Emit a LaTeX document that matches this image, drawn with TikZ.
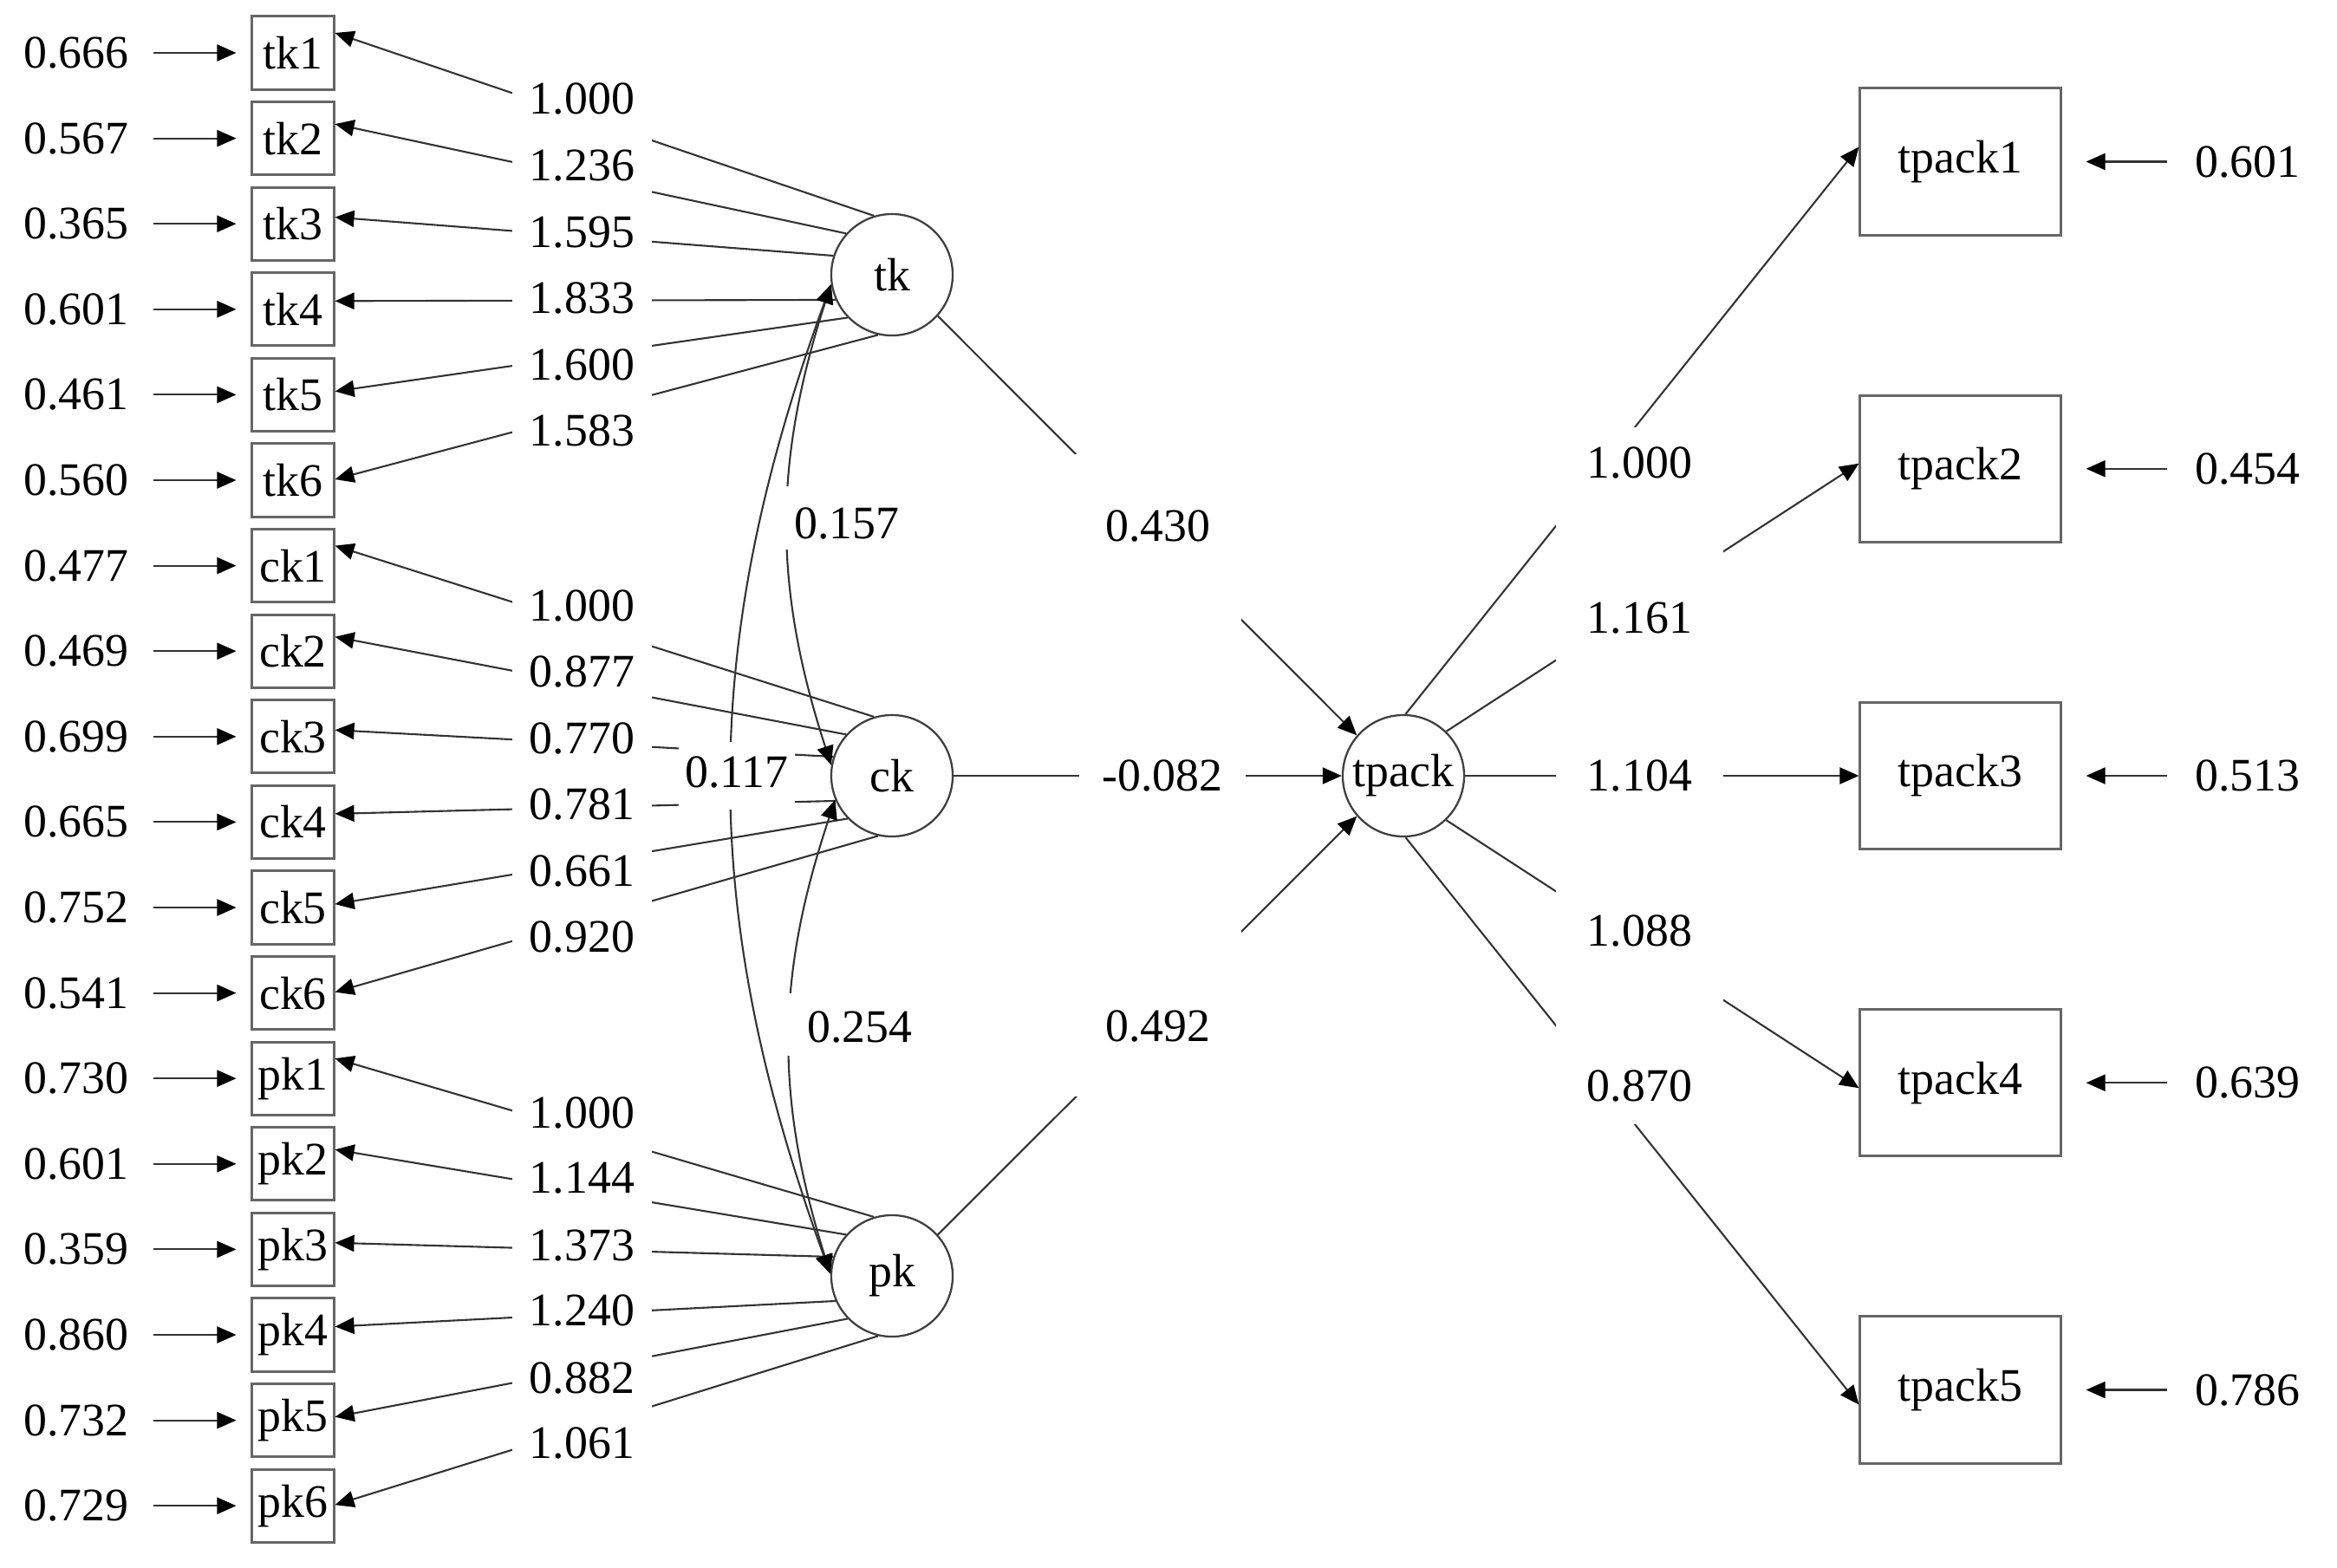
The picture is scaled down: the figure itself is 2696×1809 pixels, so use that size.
\documentclass[tikz,border=0pt]{standalone}
\usepackage{fontspec}
\setmainfont{Liberation Serif}
\usetikzlibrary{arrows.meta}
\begin{document}
\begin{tikzpicture}[x=0.01cm,y=0.01cm,
  every node/.style={font=\fontsize{15.3}{18}\selectfont, text=black},
  obs/.style={draw=black!60, line width=0.85pt, minimum width=0.94cm, minimum height=0.84cm, inner sep=0},
  bigobs/.style={draw=black!60, line width=0.85pt, minimum width=2.31cm, minimum height=1.69cm, inner sep=0},
  lat/.style={circle, draw=black!75, line width=0.65pt, minimum size=1.40cm, inner sep=0},
  num/.style={inner sep=0},
  mytip/.tip={Triangle[length=0.22cm,width=0.19cm,color=black]},
  arr/.style={draw=black!80, line width=0.6pt, -mytip},
  cov/.style={draw=black!80, line width=0.6pt, mytip-mytip},
  lab/.style={fill=white, inner sep=0, anchor=base},
  ll/.style={lab, minimum width=1.61cm, text height=0.705cm, text depth=0.335cm},
  rl/.style={lab, minimum width=1.93cm},
]
\path[use as bounding box, fill=white] (0,0) rectangle (2696,-1809);

% observed indicators with error values
\foreach \n/\y/\e in {tk1/61/0.666, tk2/159.6/0.567, tk3/258.2/0.365, tk4/356.8/0.601, tk5/455.4/0.461, tk6/554/0.560,
  ck1/652.6/0.477, ck2/751.2/0.469, ck3/849.8/0.699, ck4/948.4/0.665, ck5/1047/0.752, ck6/1145.6/0.541,
  pk1/1244.2/0.730, pk2/1342.8/0.601, pk3/1441.4/0.359, pk4/1540/0.860, pk5/1638.6/0.732, pk6/1737.2/0.729} {
  \node[obs] (\n) at (338,-\y) {\n};
  \node[num] (e\n) at (88,-\y) {\e};
  \draw[arr, shorten <=0.28cm, shorten >=0.17cm] (e\n) -- (\n);
}

% latent variables
\node[lat] (tk) at (1029,-317) {tk};
\node[lat] (ck) at (1029,-895) {ck};
\node[lat] (pk) at (1029,-1472) {pk};
\node[lat] (tpack) at (1619,-895) {tpack};

% right indicators
\foreach \n/\y/\e in {tpack1/186.5/0.601, tpack2/540.75/0.454, tpack3/895/0.513, tpack4/1249.25/0.639, tpack5/1603.5/0.786} {
  \node[bigobs] (\n) at (2261.5,-\y) {\n};
  \node[num] (r\n) at (2593,-\y) {\e};
  \draw[arr, shorten <=0.32cm, shorten >=0.28cm] (r\n) -- (\n);
}

% loadings
\foreach \g in {tk,ck,pk} {
  \foreach \lv/\a/\o in {1/107.4/0.23, 2/138.4/0.165, 3/162.8/0.076, 4/204.8/0.095, 5/224/0.039, 6/257.9/0.01} {
    \draw[arr] (\g.\a) -- ([yshift=\o cm]\g\lv.east);
  }
}

% covariances
\draw[cov] (tk.189) to[bend right=18] (ck.170);
\draw[cov] (ck.203) to[bend right=18] (pk.178);
\draw[cov] (tk.189) to[bend right=20] (pk.178);

% structural paths
\draw[arr] (tk.-42.8) -- (tpack.139);
\draw[arr] (ck) -- (tpack);
\draw[arr] (pk.42.8) -- (tpack.221);

% tpack loadings
\draw[arr] (tpack.88) -- ([yshift=0.17cm]tpack1.west);
\draw[arr] (tpack.46) -- ([yshift=0.06cm]tpack2.west);
\draw[arr] (tpack) -- (tpack3);
\draw[arr] (tpack.-46) -- ([yshift=-0.06cm]tpack4.west);
\draw[arr] (tpack.-88) -- ([yshift=-0.17cm]tpack5.west);

% loading labels (left)
\foreach \t/\b [count=\k] in {1.000/131.5, 1.236/208.5, 1.595/285.5, 1.833/361.5, 1.600/438.5, 1.583/514.5,
  1.000/716.5, 0.877/792.5, 0.770/869.5, 0.781/945.5, 0.661/1022.5, 0.920/1098.5,
  1.000/1301.5, 1.144/1376.5, 1.373/1454.5, 1.240/1529.5, 0.882/1607.5, 1.061/1682.5} {
  \node[ll] (ld\k) at (671.5,-\b) {\t};
}

% covariance labels
\node[lab, minimum width=1.44cm, text height=0.6cm, text depth=0.12cm] (c157) at (977,-621.5) {0.157};
\node[lab, minimum width=1.34cm, text height=0.52cm, text depth=0.25cm] (c117) at (850,-908.5) {0.117};
\node[lab, minimum width=1.74cm, text height=0.56cm, text depth=0.15cm] (c254) at (992,-1202.5) {0.254};

% structural labels
\node[lab, minimum width=1.91cm, text height=1.0cm, text depth=0.95cm] (s430) at (1336,-624) {0.430};
\node[lab, minimum width=1.92cm, text height=0.55cm, text depth=0.2cm] (s082) at (1341,-912.5) {-0.082};
\node[lab, minimum width=1.91cm, text height=1.29cm, text depth=0.64cm] (s492) at (1336,-1201) {0.492};

% right loading labels
\node[rl, text height=0.585cm, text depth=0.575cm] (q1) at (1891.5,-551.5) {1.000};
\node[rl, text height=0.985cm, text depth=0.355cm] (q2) at (1891.5,-730.5) {1.161};
\node[rl, text height=0.55cm, text depth=0.2cm] (q3) at (1891.5,-912.5) {1.104};
\node[rl, text height=0.675cm, text depth=0.645cm] (q4) at (1891.5,-1091.5) {1.088};
\node[rl, text height=0.905cm, text depth=0.265cm] (q5) at (1891.5,-1270.5) {0.870};
\end{tikzpicture}
\end{document}
